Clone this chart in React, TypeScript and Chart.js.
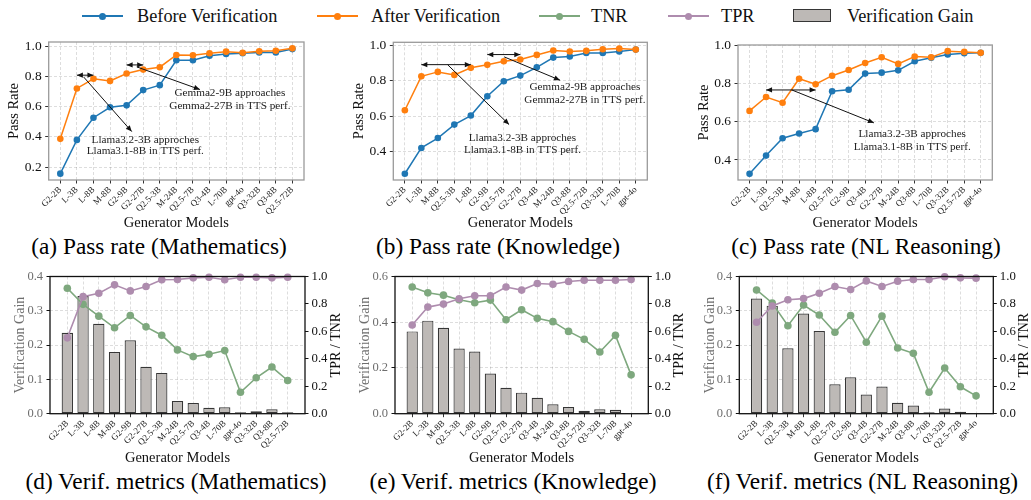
import React, { useEffect, useRef } from 'react';
import { Chart, registerables } from 'chart.js';

Chart.register(...registerables);

// ---------- data ----------
const mathModels = ['G2-2B', 'L-3B', 'L-8B', 'M-8B', 'G2-9B', 'G2-27B', 'Q2.5-3B', 'M-24B', 'Q2.5-7B', 'Q3-4B', 'L-70B', 'gpt-4o', 'Q3-32B', 'Q3-8B', 'Q2.5-72B'];
const mathBefore = [0.156, 0.38, 0.527, 0.596, 0.609, 0.71, 0.743, 0.908, 0.908, 0.938, 0.949, 0.954, 0.96, 0.96, 0.982];
const mathAfter = [0.387, 0.721, 0.785, 0.771, 0.82, 0.846, 0.862, 0.943, 0.941, 0.954, 0.965, 0.958, 0.967, 0.971, 0.987];
const mathGain = [0.236, 0.343, 0.262, 0.18, 0.214, 0.137, 0.119, 0.037, 0.031, 0.017, 0.019, 0.004, 0.007, 0.013, 0.004];
const mathTNR = [0.914, 0.797, 0.711, 0.626, 0.716, 0.633, 0.572, 0.465, 0.416, 0.433, 0.46, 0.156, 0.262, 0.34, 0.242];
const mathTPR = [0.553, 0.853, 0.878, 0.939, 0.895, 0.927, 0.976, 0.978, 0.99, 0.995, 0.976, 0.995, 0.995, 0.99, 0.995];

const knowModels = ['G2-2B', 'L-3B', 'M-8B', 'Q2.5-3B', 'L-8B', 'G2-9B', 'Q2.5-7B', 'G2-27B', 'Q3-4B', 'M-24B', 'Q3-8B', 'Q2.5-72B', 'Q3-32B', 'L-70B', 'gpt-4o'];
const knowBefore = [0.275, 0.421, 0.477, 0.553, 0.604, 0.713, 0.798, 0.83, 0.877, 0.932, 0.938, 0.958, 0.958, 0.966, 0.977];
const knowAfter = [0.634, 0.826, 0.851, 0.834, 0.874, 0.891, 0.911, 0.921, 0.947, 0.972, 0.966, 0.97, 0.979, 0.983, 0.977];
const knowGain = [0.36, 0.407, 0.376, 0.285, 0.272, 0.176, 0.113, 0.092, 0.07, 0.041, 0.029, 0.013, 0.019, 0.017, 0.0];
const knowTNR = [0.923, 0.881, 0.864, 0.831, 0.809, 0.828, 0.685, 0.758, 0.695, 0.671, 0.6, 0.542, 0.45, 0.571, 0.283];
const knowTPR = [0.646, 0.777, 0.799, 0.838, 0.86, 0.86, 0.923, 0.901, 0.949, 0.944, 0.964, 0.973, 0.973, 0.973, 0.978];

const nlModels = ['G2-2B', 'L-3B', 'Q2.5-3B', 'M-8B', 'L-8B', 'Q2.5-7B', 'G2-9B', 'Q3-4B', 'G2-27B', 'M-24B', 'Q3-8B', 'L-70B', 'Q3-32B', 'Q2.5-72B', 'gpt-4o'];
const nlBefore = [0.327, 0.423, 0.514, 0.539, 0.562, 0.761, 0.769, 0.854, 0.859, 0.871, 0.919, 0.937, 0.954, 0.961, 0.963];
const nlAfter = [0.658, 0.731, 0.701, 0.827, 0.798, 0.843, 0.873, 0.91, 0.94, 0.905, 0.944, 0.94, 0.972, 0.968, 0.963];
const nlGain = [0.336, 0.315, 0.191, 0.292, 0.241, 0.086, 0.106, 0.056, 0.079, 0.032, 0.024, 0.004, 0.015, 0.006, 0.0];
const nlTNR = [0.902, 0.807, 0.641, 0.792, 0.719, 0.594, 0.716, 0.521, 0.711, 0.479, 0.44, 0.156, 0.333, 0.196, 0.13];
const nlTPR = [0.667, 0.785, 0.831, 0.839, 0.878, 0.927, 0.905, 0.968, 0.927, 0.966, 0.978, 0.978, 0.998, 0.99, 0.988];

const passTicksMath = [0.2, 0.4, 0.6, 0.8, 1.0];
const passTicksOther = [0.4, 0.6, 0.8, 1.0];
const gainTicksSmall = [0.0, 0.1, 0.2, 0.3, 0.4];
const gainTicksLarge = [0.0, 0.2, 0.4, 0.6];
const rateTicks = [0.0, 0.2, 0.4, 0.6, 0.8, 1.0];

// ---------- callouts (data coordinates: x = model index, y = pass rate) ----------
type Arrow = { from: [number, number]; to: [number, number]; both?: boolean };
type Note = { x: number; ys: number[]; lines: string[] };

const llamaText = ['Llama3.2-3B approches', 'Llama3.1-8B in TTS perf.'];
const gemmaText = ['Gemma2-9B approaches', 'Gemma2-27B in TTS perf.'];

const mathArrows: Arrow[] = [
  { from: [1, 0.809], to: [2, 0.809], both: true },
  { from: [1.4, 0.798], to: [4.31, 0.435] },
  { from: [4, 0.877], to: [5, 0.877], both: true },
  { from: [4.61, 0.864], to: [8.42, 0.714] },
];
const mathNotes: Note[] = [
  { x: 5.13, ys: [0.38, 0.303], lines: llamaText },
  { x: 10.23, ys: [0.688, 0.604], lines: gemmaText },
];
const knowArrows: Arrow[] = [
  { from: [1, 0.892], to: [4, 0.892], both: true },
  { from: [2.59, 0.892], to: [6.32, 0.553] },
  { from: [5, 0.949], to: [7, 0.949], both: true },
  { from: [6.02, 0.936], to: [9.41, 0.804] },
];
const knowNotes: Note[] = [
  { x: 7.13, ys: [0.477, 0.411], lines: llamaText },
  { x: 10.92, ys: [0.766, 0.689], lines: gemmaText },
];
const nlArrows: Arrow[] = [
  { from: [1, 0.768], to: [4, 0.768], both: true },
  { from: [2.56, 0.768], to: [7.53, 0.595] },
];
const nlNotes: Note[] = [{ x: 9.85, ys: [0.537, 0.468], lines: llamaText }];

// ---------- style ----------
const SERIF = "'Liberation Serif', 'Times New Roman', serif";
const BLUE = '#1f77b4';
const ORANGE = '#ff7f0e';
const TNR_C = '#7ea87e';
const TPR_C = '#ae8cae';
const BAR_FILL = '#bdb9b6';
const BAR_EDGE = '#363636';
const GRID = 'rgba(0,0,0,0.17)';

type Geo = {
  left: number; top: number; width: number; height: number;
  plotLeft: number; plotTop: number; plotRight: number; plotBottom: number;
};

const pts = (vals: number[]) => vals.map((v, i) => ({ x: i, y: v }));

function framePlugin(color: string, width: number) {
  return {
    id: 'frame',
    afterDraw(chart: any) {
      const { ctx, chartArea: a } = chart;
      ctx.save();
      ctx.strokeStyle = color;
      ctx.lineWidth = width;
      ctx.strokeRect(a.left, a.top, a.right - a.left, a.bottom - a.top);
      ctx.restore();
    },
  };
}

function arrowHead(ctx: CanvasRenderingContext2D, x0: number, y0: number, x1: number, y1: number) {
  const ang = Math.atan2(y1 - y0, x1 - x0);
  const len = 6;
  const hw = 2.6;
  ctx.beginPath();
  ctx.moveTo(x1, y1);
  ctx.lineTo(x1 - len * Math.cos(ang) + hw * Math.sin(ang), y1 - len * Math.sin(ang) - hw * Math.cos(ang));
  ctx.lineTo(x1 - len * Math.cos(ang) - hw * Math.sin(ang), y1 - len * Math.sin(ang) + hw * Math.cos(ang));
  ctx.closePath();
  ctx.fill();
}

function calloutPlugin(arrows: Arrow[], notes: Note[]) {
  return {
    id: 'callouts',
    afterDatasetsDraw(chart: any) {
      const { ctx } = chart;
      const sx = chart.scales.x;
      const sy = chart.scales.y;
      ctx.save();
      ctx.strokeStyle = '#111';
      ctx.fillStyle = '#111';
      ctx.lineWidth = 1;
      for (const a of arrows) {
        const x0 = sx.getPixelForValue(a.from[0]);
        const y0 = sy.getPixelForValue(a.from[1]);
        const x1 = sx.getPixelForValue(a.to[0]);
        const y1 = sy.getPixelForValue(a.to[1]);
        ctx.beginPath();
        ctx.moveTo(x0, y0);
        ctx.lineTo(x1, y1);
        ctx.stroke();
        arrowHead(ctx, x0, y0, x1, y1);
        if (a.both) arrowHead(ctx, x1, y1, x0, y0);
      }
      ctx.font = `11.2px ${SERIF}`;
      ctx.textAlign = 'center';
      ctx.textBaseline = 'middle';
      ctx.fillStyle = '#222';
      for (const n of notes) {
        const x = sx.getPixelForValue(n.x);
        n.lines.forEach((t, i) => ctx.fillText(t, x, sy.getPixelForValue(n.ys[i])));
      }
      ctx.restore();
    },
  };
}

// right-hand axis title, read bottom to top
function rightTitlePlugin(text: string, offset: number) {
  return {
    id: 'rightTitle',
    afterDraw(chart: any) {
      const { ctx, chartArea: a } = chart;
      ctx.save();
      ctx.translate(a.right + offset, (a.top + a.bottom) / 2);
      ctx.rotate(-Math.PI / 2);
      ctx.font = `14px ${SERIF}`;
      ctx.fillStyle = '#111';
      ctx.textAlign = 'center';
      ctx.textBaseline = 'middle';
      ctx.fillText(text, 0, 0);
      ctx.restore();
    },
  };
}

function modelAxis(models: string[], min: number, max: number, height: number) {
  return {
    type: 'linear',
    min,
    max,
    offset: false,
    afterBuildTicks: (s: any) => {
      s.ticks = models.map((_, i) => ({ value: i }));
    },
    afterFit: (s: any) => {
      s.height = height;
    },
    ticks: {
      autoSkip: false,
      minRotation: 45,
      maxRotation: 45,
      padding: 1,
      color: '#222',
      font: { family: SERIF, size: 9 },
      callback: (v: number) => models[Math.round(v)],
    },
    grid: { color: GRID, lineWidth: 0.8, offset: false, tickLength: 3.5, tickColor: '#333', tickWidth: 1, tickBorderDash: [] },
    border: { display: false, dash: [3, 2] },
    title: { display: true, text: 'Generator Models', color: '#111', font: { family: SERIF, size: 14.5 }, padding: 0 },
  };
}

function passRateConfig(geo: Geo, models: string[], before: number[], after: number[], yMin: number, yMax: number, yTicks: number[], arrows: Arrow[], notes: Note[]) {
  const line = (label: string, vals: number[], color: string, order: number) => ({
    label,
    data: pts(vals),
    borderColor: color,
    backgroundColor: color,
    borderWidth: 1.5,
    pointRadius: 3.3,
    pointHoverRadius: 3.3,
    pointBorderWidth: 0,
    order,
    clip: false,
  });
  return {
    type: 'line',
    data: {
      datasets: [
        line('Before Verification', before, BLUE, 1),
        line('After Verification', after, ORANGE, 0),
      ],
    },
    options: {
      responsive: false,
      animation: false,
      events: [],
      layout: { padding: { top: geo.plotTop - geo.top, right: geo.left + geo.width - geo.plotRight, left: 0, bottom: 0 } },
      plugins: { legend: { display: false }, tooltip: { enabled: false } },
      scales: {
        x: modelAxis(models, -0.7, 14.7, geo.top + geo.height - geo.plotBottom),
        y: {
          type: 'linear',
          min: yMin,
          max: yMax,
          afterBuildTicks: (s: any) => {
            s.ticks = yTicks.map((v) => ({ value: v }));
          },
          afterFit: (s: any) => {
            s.width = geo.plotLeft - geo.left;
          },
          ticks: { color: '#111', padding: 3.5, font: { family: SERIF, size: 13.5 }, callback: (v: number) => v.toFixed(1) },
          grid: { color: GRID, lineWidth: 0.8, tickLength: 3.5, tickColor: '#333', tickWidth: 1, tickBorderDash: [] },
          border: { display: false, dash: [3, 2] },
          title: { display: true, text: 'Pass Rate', color: '#111', font: { family: SERIF, size: 14.5 }, padding: { top: 5.8, bottom: 0 } },
        },
      },
    },
    plugins: [framePlugin('#9a9a9a', 1.3), calloutPlugin(arrows, notes)],
  };
}

function verifConfig(geo: Geo, models: string[], gain: number[], tnr: number[], tpr: number[], gainMax: number, gainTicks: number[]) {
  const line = (label: string, vals: number[], color: string, order: number) => ({
    type: 'line',
    label,
    data: pts(vals),
    yAxisID: 'y2',
    borderColor: color,
    backgroundColor: color,
    borderWidth: 1.6,
    pointRadius: 3.8,
    pointHoverRadius: 3.8,
    pointBorderWidth: 0,
    order,
    clip: false,
  });
  return {
    type: 'bar',
    data: {
      datasets: [
        line('TPR', tpr, TPR_C, 0),
        line('TNR', tnr, TNR_C, 1),
        {
          type: 'bar',
          label: 'Verification Gain',
          data: pts(gain),
          yAxisID: 'y',
          backgroundColor: BAR_FILL,
          borderColor: BAR_EDGE,
          borderWidth: 1.2,
          borderSkipped: false,
          barPercentage: 0.72,
          categoryPercentage: 1,
          order: 2,
        },
      ],
    },
    options: {
      responsive: false,
      animation: false,
      events: [],
      layout: { padding: { top: geo.plotTop - geo.top, right: 0, left: 0, bottom: 0 } },
      plugins: { legend: { display: false }, tooltip: { enabled: false } },
      scales: {
        x: modelAxis(models, -1.1, 15.1, geo.top + geo.height - geo.plotBottom),
        y: {
          type: 'linear',
          position: 'left',
          min: 0,
          max: gainMax,
          afterBuildTicks: (s: any) => {
            s.ticks = gainTicks.map((v) => ({ value: v }));
          },
          afterFit: (s: any) => {
            s.width = geo.plotLeft - geo.left;
          },
          ticks: { color: '#6e6e6e', padding: 3.5, font: { family: SERIF, size: 12.5 }, callback: (v: number) => v.toFixed(1) },
          grid: { color: GRID, lineWidth: 0.8, tickLength: 3.5, tickColor: '#111', tickWidth: 1, tickBorderDash: [] },
          border: { display: false, dash: [3, 2] },
          title: { display: true, text: 'Verification Gain', color: '#6e6e6e', font: { family: SERIF, size: 14 }, padding: { top: 11.9, bottom: 0 } },
        },
        y2: {
          type: 'linear',
          position: 'right',
          min: 0,
          max: 1,
          afterBuildTicks: (s: any) => {
            s.ticks = rateTicks.map((v) => ({ value: v }));
          },
          afterFit: (s: any) => {
            s.width = geo.left + geo.width - geo.plotRight;
          },
          ticks: { color: '#111', padding: 3, font: { family: SERIF, size: 12.8 }, callback: (v: number) => v.toFixed(1) },
          grid: { drawOnChartArea: false, tickLength: 3.5, tickColor: '#111', tickWidth: 1 },
          border: { display: false },
        },
      },
    },
    plugins: [framePlugin('#111', 1.3), rightTitlePlugin('TPR / TNR', 31)],
  };
}

function PanelChart({ geo, build }: { geo: Geo; build: (g: Geo) => any }) {
  const ref = useRef<HTMLCanvasElement>(null);
  useEffect(() => {
    const chart = new Chart(ref.current as HTMLCanvasElement, build(geo));
    return () => chart.destroy();
  }, []);
  return (
    <canvas
      ref={ref}
      width={geo.width}
      height={geo.height}
      style={{ position: 'absolute', left: geo.left, top: geo.top, width: geo.width, height: geo.height }}
    />
  );
}

const geoA: Geo = { left: 0, top: 30, width: 341, height: 202, plotLeft: 48.7, plotTop: 42, plotRight: 304, plotBottom: 180 };
const geoB: Geo = { left: 345, top: 30, width: 341, height: 202, plotLeft: 393.3, plotTop: 42.3, plotRight: 647.3, plotBottom: 180 };
const geoC: Geo = { left: 690, top: 30, width: 341, height: 202, plotLeft: 738, plotTop: 45, plotRight: 992.3, plotBottom: 180 };
const geoD: Geo = { left: 0, top: 265, width: 345, height: 202, plotLeft: 50, plotTop: 276.5, plotRight: 305, plotBottom: 413.7 };
const geoE: Geo = { left: 345, top: 265, width: 345, height: 202, plotLeft: 395, plotTop: 276.5, plotRight: 648.3, plotBottom: 413.7 };
const geoF: Geo = { left: 690, top: 265, width: 341, height: 202, plotLeft: 739.3, plotTop: 276.5, plotRight: 993.3, plotBottom: 413.7 };

function LineKey({ x, color }: { x: number; color: string }) {
  return (
    <>
      <div style={{ position: 'absolute', left: x, top: 15, width: 41, height: 2, background: color }} />
      <div style={{ position: 'absolute', left: x + 16.5, top: 12.5, width: 7, height: 7, borderRadius: '50%', background: color }} />
    </>
  );
}

function KeyText({ x, children }: { x: number; children: React.ReactNode }) {
  return (
    <span style={{ position: 'absolute', left: x, top: 5, fontFamily: SERIF, fontSize: 18.3, lineHeight: '22px', color: '#111', whiteSpace: 'nowrap' }}>
      {children}
    </span>
  );
}

function Caption({ cx, cy, children }: { cx: number; cy: number; children: React.ReactNode }) {
  return (
    <div
      style={{
        position: 'absolute',
        left: cx,
        top: cy - 12.9,
        transform: 'translateX(-50%)',
        fontFamily: SERIF,
        fontSize: 23.3,
        lineHeight: '24px',
        color: '#000',
        whiteSpace: 'nowrap',
      }}
    >
      {children}
    </div>
  );
}

export default function App() {
  return (
    <div style={{ position: 'absolute', left: 0, top: 0, width: 1031, height: 500, background: '#fff', overflow: 'hidden' }}>
      <LineKey x={82} color={BLUE} />
      <KeyText x={137}>Before Verification</KeyText>
      <LineKey x={317} color={ORANGE} />
      <KeyText x={371}>After Verification</KeyText>
      <LineKey x={539} color={TNR_C} />
      <KeyText x={591}>TNR</KeyText>
      <LineKey x={668} color={TPR_C} />
      <KeyText x={721}>TPR</KeyText>
      <div style={{ position: 'absolute', left: 793, top: 9, width: 38, height: 13, background: BAR_FILL, border: `1px solid ${BAR_EDGE}`, boxSizing: 'border-box' }} />
      <KeyText x={847}>Verification Gain</KeyText>

      <PanelChart geo={geoA} build={(g) => passRateConfig(g, mathModels, mathBefore, mathAfter, 0.114, 1.029, passTicksMath, mathArrows, mathNotes)} />
      <PanelChart geo={geoB} build={(g) => passRateConfig(g, knowModels, knowBefore, knowAfter, 0.2396, 1.0184, passTicksOther, knowArrows, knowNotes)} />
      <PanelChart geo={geoC} build={(g) => passRateConfig(g, nlModels, nlBefore, nlAfter, 0.2947, 1.0043, passTicksOther, nlArrows, nlNotes)} />
      <PanelChart geo={geoD} build={(g) => verifConfig(g, mathModels, mathGain, mathTNR, mathTPR, 0.4, gainTicksSmall)} />
      <PanelChart geo={geoE} build={(g) => verifConfig(g, knowModels, knowGain, knowTNR, knowTPR, 0.6, gainTicksLarge)} />
      <PanelChart geo={geoF} build={(g) => verifConfig(g, nlModels, nlGain, nlTNR, nlTPR, 0.4, gainTicksSmall)} />

      <Caption cx={159} cy={246.7}>(a) Pass rate (Mathematics)</Caption>
      <Caption cx={498} cy={246.7}>(b) Pass rate (Knowledge)</Caption>
      <Caption cx={866} cy={246.7}>(c) Pass rate (NL Reasoning)</Caption>
      <Caption cx={176} cy={481.7}>(d) Verif. metrics (Mathematics)</Caption>
      <Caption cx={513} cy={481.7}>(e) Verif. metrics (Knowledge)</Caption>
      <Caption cx={862.5} cy={481.7}>(f) Verif. metrics (NL Reasoning)</Caption>
    </div>
  );
}
